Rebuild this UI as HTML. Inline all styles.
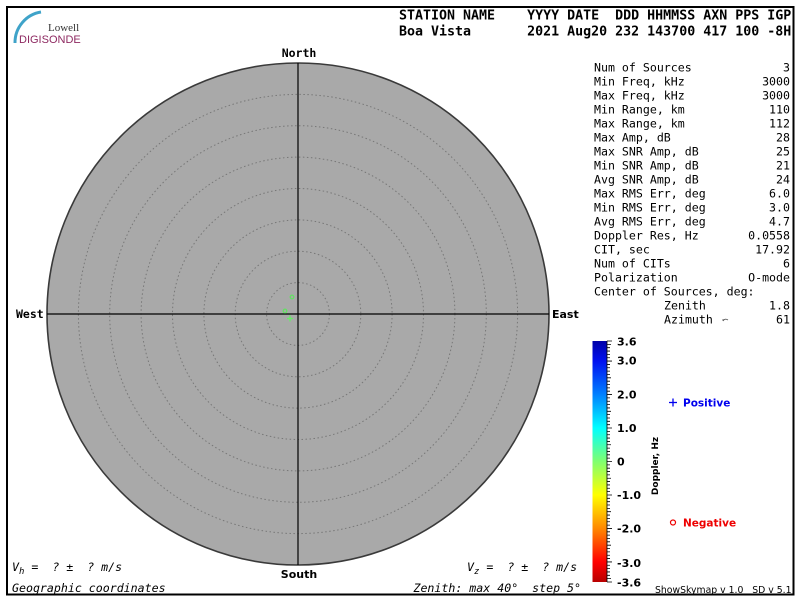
<!DOCTYPE html>
<html><head><meta charset="utf-8"><style>
html,body{margin:0;padding:0;background:#fff;}
svg{display:block;}
text,tspan{white-space:pre;}
.mono{font-family:"DejaVu Sans Mono","Liberation Mono",monospace;}
.sans{font-family:"DejaVu Sans","Liberation Sans",sans-serif;}
</style></head><body>
<svg width="800" height="600" viewBox="0 0 800 600" xmlns="http://www.w3.org/2000/svg">
<defs>
<linearGradient id="jet" x1="0" y1="0" x2="0" y2="1">
<stop offset="0" stop-color="#0000a8"/>
<stop offset="0.083" stop-color="#0010f0"/>
<stop offset="0.222" stop-color="#0080ff"/>
<stop offset="0.361" stop-color="#00ffff"/>
<stop offset="0.5" stop-color="#80ff70"/>
<stop offset="0.639" stop-color="#ffff00"/>
<stop offset="0.778" stop-color="#ff8800"/>
<stop offset="0.917" stop-color="#ff0000"/>
<stop offset="1" stop-color="#b80000"/>
</linearGradient>
</defs>
<rect x="0" y="0" width="800" height="600" fill="#fff"/>
<rect x="7" y="7" width="786.5" height="587.5" fill="none" stroke="#000" stroke-width="2"/>

<!-- logo -->
<path d="M15,43 A31,31 0 0 1 41,12" fill="none" stroke="#3fa3c9" stroke-width="3"/>
<text x="48" y="31" font-family="Liberation Serif,serif" font-size="11" fill="#333">Lowell</text>
<text x="19" y="43" font-family="Liberation Sans,sans-serif" font-size="11" fill="#8e2a62">DIGISONDE</text>

<!-- header -->
<g class="mono" font-size="13.3" font-weight="bold" fill="#000">
<text x="399" y="19.5">STATION NAME    YYYY DATE  DDD HHMMSS AXN PPS IGP</text>
<text x="399" y="35.5">Boa Vista       2021 Aug20 232 143700 417 100 -8H</text>
</g>

<!-- skymap -->
<circle cx="298" cy="314" r="251" fill="#a9a9a9" stroke="#3a3a3a" stroke-width="1.6"/>
<g fill="none" stroke="#777" stroke-width="1" stroke-dasharray="1.5,2.5">
<circle cx="298" cy="314" r="31.4"/>
<circle cx="298" cy="314" r="62.8"/>
<circle cx="298" cy="314" r="94.1"/>
<circle cx="298" cy="314" r="125.5"/>
<circle cx="298" cy="314" r="156.9"/>
<circle cx="298" cy="314" r="188.3"/>
<circle cx="298" cy="314" r="219.6"/>
</g>
<line x1="298" y1="63" x2="298" y2="565" stroke="#000" stroke-width="1.2"/>
<line x1="47" y1="314" x2="549" y2="314" stroke="#000" stroke-width="1.2"/>
<g fill="none" stroke="#66dd66" stroke-width="1.3">
<circle cx="292" cy="297" r="1.8"/>
<circle cx="285" cy="311" r="1.8"/>
</g>
<g stroke="#66ee66" stroke-width="1.3">
<line x1="287" y1="318.5" x2="293" y2="318.5"/>
<line x1="290" y1="315.5" x2="290" y2="321.5"/>
</g>

<text x="299" y="57" class="mono" font-size="11.5" font-weight="bold" text-anchor="middle">North</text>
<text x="16" y="318" class="mono" font-size="11.5" font-weight="bold">West</text>
<text x="552" y="318" class="sans" font-size="11" font-weight="bold">East</text>
<text x="299" y="578" class="sans" font-size="11" font-weight="bold" text-anchor="middle">South</text>

<!-- bottom texts -->
<g class="mono" font-size="11.6" font-style="italic">
<text x="12" y="571">V<tspan font-size="9" dy="3">h</tspan><tspan dy="-3"> =  ? ±  ? m/s</tspan></text>
<text x="12" y="592">Geographic coordinates</text>
<text x="467" y="571">V<tspan font-size="9" dy="3">z</tspan><tspan dy="-3"> =  ? ±  ? m/s</tspan></text>
<text x="581" y="592" text-anchor="end">Zenith: max 40°  step 5°</text>
</g>

<!-- stats -->
<g class="mono" font-size="11.6" fill="#000">
<text x="594" y="71.5">Num of Sources</text><text x="790" y="71.5" text-anchor="end">3</text>
<text x="594" y="85.5">Min Freq, kHz</text><text x="790" y="85.5" text-anchor="end">3000</text>
<text x="594" y="99.5">Max Freq, kHz</text><text x="790" y="99.5" text-anchor="end">3000</text>
<text x="594" y="113.5">Min Range, km</text><text x="790" y="113.5" text-anchor="end">110</text>
<text x="594" y="127.5">Max Range, km</text><text x="790" y="127.5" text-anchor="end">112</text>
<text x="594" y="141.5">Max Amp, dB</text><text x="790" y="141.5" text-anchor="end">28</text>
<text x="594" y="155.5">Max SNR Amp, dB</text><text x="790" y="155.5" text-anchor="end">25</text>
<text x="594" y="169.5">Min SNR Amp, dB</text><text x="790" y="169.5" text-anchor="end">21</text>
<text x="594" y="183.5">Avg SNR Amp, dB</text><text x="790" y="183.5" text-anchor="end">24</text>
<text x="594" y="197.5">Max RMS Err, deg</text><text x="790" y="197.5" text-anchor="end">6.0</text>
<text x="594" y="211.5">Min RMS Err, deg</text><text x="790" y="211.5" text-anchor="end">3.0</text>
<text x="594" y="225.5">Avg RMS Err, deg</text><text x="790" y="225.5" text-anchor="end">4.7</text>
<text x="594" y="239.5">Doppler Res, Hz</text><text x="790" y="239.5" text-anchor="end">0.0558</text>
<text x="594" y="253.5">CIT, sec</text><text x="790" y="253.5" text-anchor="end">17.92</text>
<text x="594" y="267.5">Num of CITs</text><text x="790" y="267.5" text-anchor="end">6</text>
<text x="594" y="281.5">Polarization</text><text x="790" y="281.5" text-anchor="end">O-mode</text>
<text x="594" y="295.5">Center of Sources, deg:</text>
<text x="664" y="309.5">Zenith</text><text x="790" y="309.5" text-anchor="end">1.8</text>
<text x="664" y="323.5">Azimuth</text><text x="790" y="323.5" text-anchor="end">61</text>
</g>
<path d="M723,321 q2,-3 5,-1 M723,321 l0,-2" fill="none" stroke="#555" stroke-width="0.8"/>

<!-- colorbar -->
<rect x="592.5" y="341" width="14.5" height="241" fill="url(#jet)"/>
<g class="sans" font-size="11" font-weight="bold" fill="#000">
<text x="617" y="345.5">3.6</text>
<text x="617" y="364.5">3.0</text>
<text x="617" y="398.5">2.0</text>
<text x="617" y="432">1.0</text>
<text x="617" y="465.5">0</text>
<text x="617" y="499">-1.0</text>
<text x="617" y="532.5">-2.0</text>
<text x="617" y="567">-3.0</text>
<text x="617" y="586.5">-3.6</text>
</g>
<text transform="translate(658,466) rotate(-90)" class="sans" font-size="9" font-weight="bold" text-anchor="middle">Doppler, Hz</text>
<g stroke="#0000ee" stroke-width="1.3">
<line x1="669" y1="402.5" x2="677" y2="402.5"/>
<line x1="673" y1="398.5" x2="673" y2="406.5"/>
</g>
<text x="683" y="406.5" class="sans" font-size="10.5" font-weight="bold" fill="#0000ee">Positive</text>
<circle cx="673" cy="522.5" r="2.5" fill="none" stroke="#ee0000" stroke-width="1.2"/>
<text x="683" y="526.5" class="sans" font-size="10.5" font-weight="bold" fill="#ee0000">Negative</text>
<text x="655" y="593" class="sans" font-size="9.3" fill="#000">ShowSkymap v 1.0   SD v 5.1</text>
<path id="tk" fill="none" stroke="#000" stroke-width="0.8" d=""/>
</svg>
<script>
(function(){
var d="";
for(var i=0;i<=72;i++){
 var y=341+i*241/72;
 var v=3.6-i*0.1;
 var major=Math.abs(v-Math.round(v))<0.01;
 var half=Math.abs(v*2-Math.round(v*2))<0.01;
 var len=major?5:(half?4:3);
 if(i==0||i==72)len=5;
 d+="M607,"+y.toFixed(2)+"h"+len;
}
d+="M607,341V582";
document.getElementById("tk").setAttribute("d",d);
})();
</script>
</body></html>
